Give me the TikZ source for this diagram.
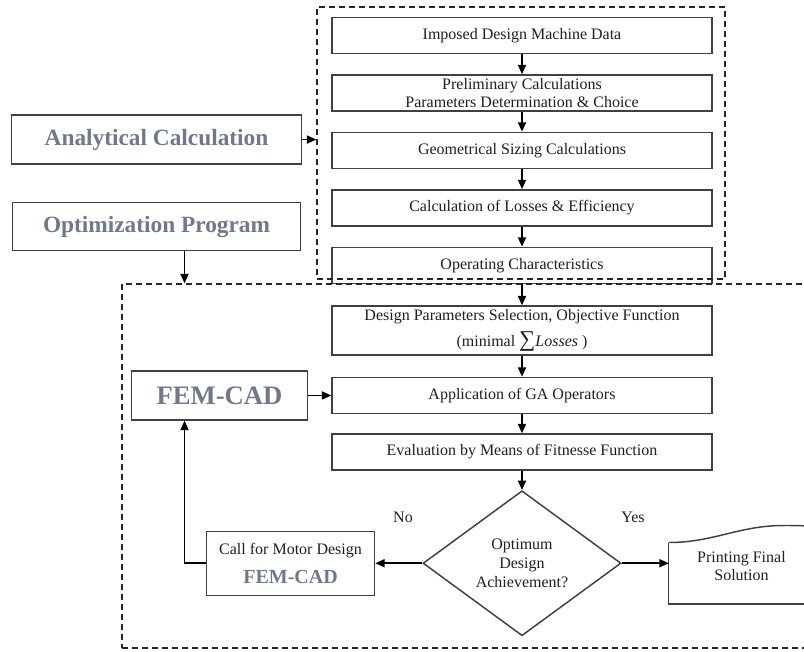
\documentclass[tikz,border=0pt]{standalone}
\usepackage{fontspec}
\setmainfont{Liberation Serif}
\usetikzlibrary{arrows.meta,positioning,shapes.geometric}
\definecolor{titleInk}{RGB}{112,120,140}
\definecolor{boxLine}{RGB}{64,64,64}
\definecolor{bodyInk}{RGB}{30,30,40}
\tikzset{
  box/.style={draw=boxLine, line width=1.1pt, fill=white, align=center, inner sep=2pt, font=\fontsize{12}{13.5}\selectfont, text=bodyInk},
  colbox/.style={box, minimum width=285pt, minimum height=27pt},
  titlebox/.style={box, font=\bfseries\fontsize{17.5}{20}\selectfont, text=titleInk},
  groupbox/.style={draw=black!85, line width=1.1pt, dash pattern=on 4.5pt off 3pt},
  decision/.style={diamond, draw=boxLine, line width=1.1pt, align=center, inner sep=0pt, aspect=1.37, minimum width=148.5pt, minimum height=108.75pt, font=\fontsize{12}{14}\selectfont, text=bodyInk},
  flow/.style={-{Triangle[length=7pt,width=6pt]}, line width=1.3pt, draw=black},
  tag/.style={font=\fontsize{12}{14}\selectfont, text=bodyInk}
}
\begin{document}
\begin{tikzpicture}[x=0.75pt, y=-0.75pt]
  \clip (0,0) rectangle (804,651);
  % analytical part
  \node[colbox] (b1) at (522,35.5) {Imposed Design Machine Data};
  \node[colbox, below=15pt of b1] (b2) {Preliminary Calculations\\Parameters Determination \& Choice};
  \node[colbox, below=15pt of b2] (b3) {Geometrical Sizing Calculations};
  \node[colbox, below=15pt of b3] (b4) {Calculation of Losses \& Efficiency};
  \node[colbox, below=15pt of b4] (b5) {Operating Characteristics};
  \node[groupbox, minimum width=306pt, minimum height=204pt] (grpA) at (521,143) {};
  % GA loop
  \node[colbox, minimum height=36.75pt] (d1) at (522,330.5) {Design Parameters Selection, Objective Function\\[5pt](minimal {\fontsize{17}{17}\selectfont ∑}\textit{Losses} )};
  \node[colbox, below=15.75pt of d1] (ga) {Application of GA Operators};
  \node[colbox, below=14.25pt of ga] (ev) {Evaluation by Means of Fitnesse Function};
  \node[decision, below=14.5pt of ev] (dia) {Optimum\\Design\\Achievement?};
  \node[box, minimum width=126pt, minimum height=48pt, left=35.25pt of dia] (call) {Call for Motor Design\\[8pt]{\bfseries\fontsize{15}{17}\selectfont\color{titleInk}FEM-CAD}};
  \node[box, draw=none, fill=none, minimum width=108pt, minimum height=34.5pt, right=35.25pt of dia, yshift=-2.25pt] (prt) {Printing Final\\Solution};
  \node[groupbox, minimum width=516pt, minimum height=273pt] (grpB) at (466,466) {};
  % side boxes
  \node[titlebox, minimum width=217.5pt, minimum height=36.75pt, left=10.5pt of grpA, yshift=2.6pt] (ana) {Analytical Calculation};
  \node[titlebox, minimum width=216pt, minimum height=36pt, below=27.75pt of ana] (opt) {Optimization Program};
  \node[titlebox, font=\bfseries\fontsize{20}{24}\selectfont, minimum width=132pt, minimum height=36.75pt, left=17.25pt of ga] (fem) {FEM-CAD};
  \node[tag] (no) at (403,517) {No};
  \node[tag] (yes) at (633,517) {Yes};
  % printout outline
  \draw[boxLine, line width=1.1pt] (prt.north west) .. controls +(45,0) and +(-45,0) .. ++(115,-17) .. controls +(20,0) .. ++(50,3);
  \draw[boxLine, line width=1.1pt] (prt.north west) -- ([yshift=-10.5pt]prt.south west) -- ++(200,0);
  % connectors
  \draw[flow] (b1) -- (b2);
  \draw[flow] (b2) -- (b3);
  \draw[flow] (b3) -- (b4);
  \draw[flow] (b4) -- (b5);
  \draw[flow] (b5) -- (d1);
  \draw[flow] (d1) -- (ga);
  \draw[flow] (ga) -- (ev);
  \draw[flow] (ev) -- (dia);
  \draw[flow] (dia) -- (call);
  \draw[flow] (dia.east) -- (dia.east -| prt.west);
  \draw[flow] (ana.east) -- (ana.east -| grpA.west);
  \coordinate (optdrop) at ([xshift=21pt]opt.south);
  \draw[flow] (optdrop) -- (optdrop |- grpB.north);
  \coordinate (fbk) at ([xshift=-26.25pt]fem.south);
  \draw[flow] (call.west) -| (fbk);
  \draw[flow] (fem.east) -- (fem.east -| ga.west);
\end{tikzpicture}
\end{document}
